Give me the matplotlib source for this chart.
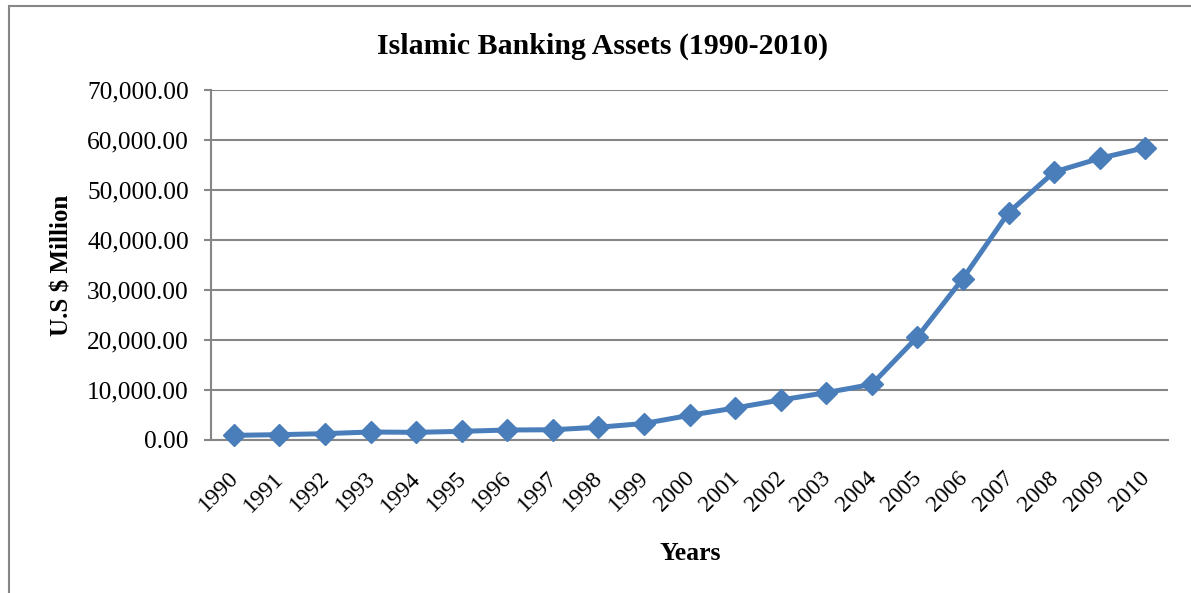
import matplotlib
matplotlib.use("Agg")
import matplotlib.pyplot as plt
from matplotlib.patches import Rectangle
from matplotlib.ticker import FuncFormatter
from matplotlib.transforms import ScaledTranslation

# Islamic banking assets, U.S $ million
years = [str(y) for y in range(1990, 2011)]
assets = [930, 1070, 1270, 1600, 1530, 1730, 2000, 2050, 2550, 3300,
          4930, 6400, 8000, 9470, 11130, 20600, 32300, 45470, 53600, 56330, 58470]
y_ticks = [0, 10000, 20000, 30000, 40000, 50000, 60000, 70000]

plt.rcParams['font.family'] = ['Liberation Serif', 'DejaVu Serif']

GRID = '#868686'
BLUE = '#4a7ebb'

fig = plt.figure(figsize=(11.91, 5.93), dpi=100)
ax = fig.add_axes([211 / 1191, 1 - 440 / 593, 957 / 1191, 350 / 593])

x = list(range(len(years)))
ax.plot(x, assets, color=BLUE, lw=3.6, marker='D', ms=11,
        markerfacecolor=BLUE, markeredgecolor=BLUE, zorder=3, clip_on=False)

ax.set_xlim(-0.5, len(years) - 0.5)
ax.set_ylim(0, 70000)
ax.set_yticks(y_ticks)
ax.yaxis.set_major_formatter(FuncFormatter(lambda v, p: f"{v:,.2f}"))
ax.set_xticks(x)
ax.set_xticklabels(years, rotation=45, ha='right', va='top',
                   rotation_mode='anchor')

ax.grid(axis='y', color=GRID, lw=1.5)
ax.set_axisbelow(True)
for side in ['top', 'right']:
    ax.spines[side].set_visible(False)
ax.spines['left'].set_color(GRID)
ax.spines['left'].set_linewidth(1.5)
ax.spines['bottom'].set_color(GRID)
ax.spines['bottom'].set_linewidth(1.5)

ax.tick_params(axis='y', length=5, width=1.5, color=GRID, labelsize=18.3, pad=11)
ax.tick_params(axis='x', length=0, labelsize=17, pad=20)

# nudge the slanted year labels left so their ends sit under the markers
# (after tick_params, which resets the label transforms)
shift = ScaledTranslation(-6 / 100, 0, fig.dpi_scale_trans)
for tick in ax.xaxis.get_major_ticks():
    tick.label1.set_transform(tick.label1.get_transform() + shift)

fig.text(603 / 1191, 1 - 46 / 593, 'Islamic Banking Assets (1990-2010)',
         ha='center', va='center', fontsize=21.5, fontweight='bold')
fig.text(62 / 1191, 1 - 265 / 593, 'U.S $ Million', rotation=90,
         ha='center', va='center', fontsize=18, fontweight='bold')
fig.text(690 / 1191, 1 - 553 / 593, 'Years',
         ha='center', va='center', fontsize=18.5, fontweight='bold')

# chart area frame (cut off at right and bottom like the reference)
fig.patches.append(Rectangle((9 / 1191, -0.05), 1.2, 1 - 6 / 593 + 0.05,
                             transform=fig.transFigure, fill=False,
                             edgecolor=GRID, lw=1.5))

fig.savefig('out.png', dpi=100)
